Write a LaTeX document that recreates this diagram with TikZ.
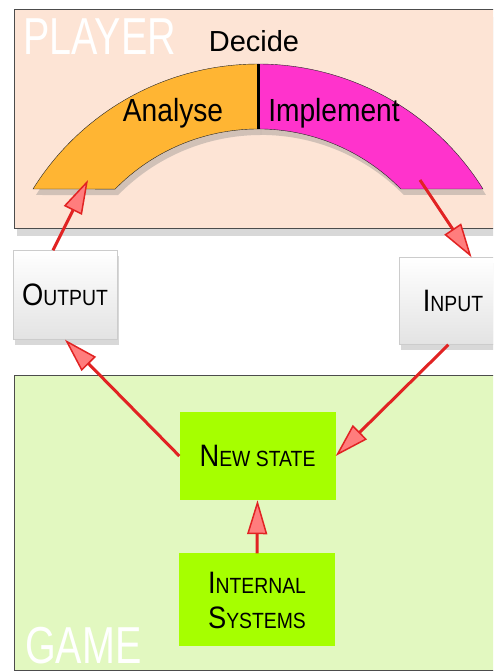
\documentclass[tikz,border=0pt]{standalone}
\usepackage{fontspec}
\setmainfont{Liberation Sans}
\newfontfamily\narrowfont[FakeStretch=0.88]{Liberation Sans}
\newfontfamily\thinfont[FakeStretch=0.76]{Liberation Sans}
\usetikzlibrary{arrows.meta,shadows}
\definecolor{playerbg}{RGB}{253,228,213}
\definecolor{gamebg}{RGB}{226,248,192}
\definecolor{statelime}{RGB}{166,255,0}
\definecolor{analysecol}{RGB}{255,181,51}
\definecolor{implcol}{RGB}{255,51,204}
\definecolor{arrowred}{RGB}{225,35,35}
\definecolor{arrowpink}{RGB}{255,125,125}
\newcommand\fakesc[2]{{\fontsize{31}{35}\selectfont#1}{\fontsize{22}{35}\selectfont#2}}
\tikzset{
  glassbox/.style={draw=gray!40, top color=white, bottom color=gray!22,
    font=\narrowfont, drop shadow={shadow xshift=2pt,shadow yshift=-6pt,opacity=0.3}},
  statebox/.style={fill=statelime, minimum width=156pt,
    font=\narrowfont\fontsize{22}{35}\selectfont},
  flow/.style={draw=arrowred, line width=3pt,
    -{Triangle[length=34pt,width=20pt,line width=1.5pt,fill=arrowpink]}},
  bigtag/.style={text=white, font=\thinfont\fontsize{52}{52}\selectfont,
    inner sep=0pt, anchor=base west},
  arctag/.style={font=\narrowfont\fontsize{32}{34}\selectfont, anchor=base},
}
\begin{document}
\begin{tikzpicture}[x=1pt,y=1pt]
  \clip (0,0) rectangle (493,672);
  \fill[white] (0,0) rectangle (493,672);
  % panels
  \draw[gray!60!black, fill=playerbg,
    drop shadow={shadow xshift=3pt,shadow yshift=-8pt,opacity=0.3}] (14,444) rectangle (510,663);
  \draw[gray!60!black, fill=gamebg] (14,2) rectangle (510,297);
  \node[bigtag] (playertag) at (23,617) {PLAYER};
  \node[bigtag] (gametag) at (25,9) {GAME};
  \node[font=\fontsize{29}{30}\selectfont, anchor=base] (decide) at (254,620) {Decide};
  % decision arc
  \path[draw=black!85, fill=analysecol, drop shadow={shadow xshift=3pt,shadow yshift=-6pt,opacity=0.35}]
    (33,483) arc[start angle=148.1, end angle=90, radius=265]
    -- (258,543) arc[start angle=90, end angle=135.6, radius=200] -- cycle;
  \path[draw=black!85, fill=implcol, drop shadow={shadow xshift=3pt,shadow yshift=-6pt,opacity=0.35}]
    (258,608) arc[start angle=90, end angle=31.9, radius=265]
    -- (400.8,483) arc[start angle=44.4, end angle=90, radius=200] -- cycle;
  \draw[line width=3pt] (258,543) -- (258,608);
  \node[arctag] (analyse) at (173,550) {Analyse};
  \node[arctag] (implement) at (334,550) {Implement};
  \coordinate (analysespot) at (88,492);
  \coordinate (implementspot) at (420,492);
  % boxes
  \node[glassbox, minimum width=104pt, minimum height=89pt] (output) at (65,377) {\fakesc{O}{UTPUT}};
  \node[glassbox, minimum width=108pt, minimum height=87pt] (input) at (453,371) {\fakesc{I}{NPUT}};
  \node[statebox, minimum height=88pt] (newstate) at (257.5,216) {\fakesc{N}{EW STATE}};
  \node[statebox, minimum height=93pt, align=center] (internal) at (257,72)
    {\fakesc{I}{NTERNAL}\\\fakesc{S}{YSTEMS}};
  % flows
  \draw[flow] (output.105) -- (analysespot);
  \draw[flow] (implementspot) -- (input.67);
  \draw[flow] (newstate.west) -- (output.south);
  \draw[flow] (input.264) -- (newstate.east);
  \draw[flow] (internal.north) -- (newstate.south);
\end{tikzpicture}
\end{document}
